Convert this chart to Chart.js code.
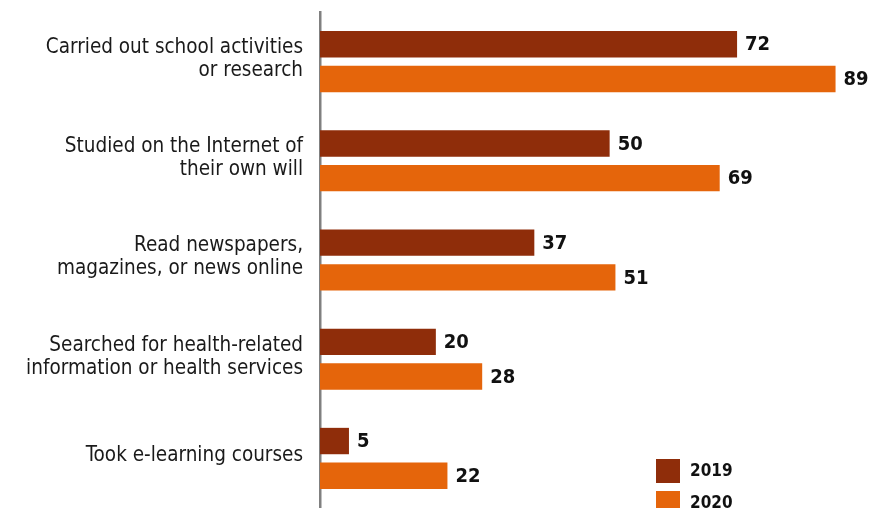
<!DOCTYPE html>
<html>
<head>
<meta charset="utf-8">
<script src="https://cdn.jsdelivr.net/npm/chart.js@4/dist/chart.umd.min.js"></script>
<style>
html,body{margin:0;padding:0;background:#fff;}
#wrap{position:relative;width:879px;height:508px;}
</style>
</head>
<body>
<div id="wrap"><canvas id="c"></canvas></div>
<script>
const categories = [
  ["Carried out school activities", "or research"],
  ["Studied on the Internet of", "their own will"],
  ["Read newspapers,", "magazines, or news online"],
  ["Searched for health-related", "information or health services"],
  ["Took e-learning courses"]
];
const values2019 = [72, 50, 37, 20, 5];
const values2020 = [89, 69, 51, 28, 22];
const seriesNames = ["2019", "2020"];
const seriesColors = ["#8f2d0a", "#e5650b"];

const FONT = '"Liberation Sans Narrow", "DejaVu Sans Condensed", "Roboto", sans-serif';

const valueLabels = {
  id: 'valueLabels',
  afterDatasetsDraw(chart) {
    const ctx = chart.ctx;
    ctx.save();
    ctx.font = 'bold 20px ' + FONT;
    ctx.fillStyle = '#111';
    ctx.textAlign = 'left';
    ctx.textBaseline = 'middle';
    chart.data.datasets.forEach((ds, i) => {
      const meta = chart.getDatasetMeta(i);
      meta.data.forEach((el, j) => {
        ctx.fillText(String(ds.data[j]), el.x + 8, el.y + 1);
      });
    });
    ctx.restore();
  }
};

const customLegend = {
  id: 'customLegend',
  afterDraw(chart) {
    const ctx = chart.ctx;
    ctx.save();
    ctx.font = 'bold 17px ' + FONT;
    ctx.textBaseline = 'middle';
    ctx.textAlign = 'left';
    chart.data.datasets.forEach((ds, i) => {
      const y = 459 + i * 32;
      ctx.fillStyle = ds.backgroundColor;
      ctx.fillRect(656, y, 24, 24);
      ctx.fillStyle = '#111';
      ctx.fillText(ds.label, 690, y + 13);
    });
    ctx.restore();
  }
};

new Chart(document.getElementById('c'), {
  type: 'bar',
  data: {
    labels: categories,
    datasets: [
      { label: seriesNames[0], data: values2019, backgroundColor: seriesColors[0], categoryPercentage: 0.70, barPercentage: 0.76 },
      { label: seriesNames[1], data: values2020, backgroundColor: seriesColors[1], categoryPercentage: 0.70, barPercentage: 0.76 }
    ]
  },
  options: {
    indexAxis: 'y',
    responsive: true,
    maintainAspectRatio: false,
    animation: false,
    layout: { padding: { top: 12, right: 0, bottom: 0, left: 0 } },
    plugins: { legend: { display: false }, tooltip: { enabled: false } },
    scales: {
      x: {
        display: false,
        min: 0,
        max: 96.5
      },
      y: {
        grid: { display: false, drawTicks: false },
        border: { display: true, color: '#808080', width: 2.5 },
        ticks: {
          color: '#1a1a1a',
          padding: 17,
          labelOffset: -2.5,
          font: { family: FONT, size: 20.5, lineHeight: 1.12 }
        },
        afterFit(scale) {
          scale.width = 320;
          scale.paddingTop = 0;
          scale.paddingBottom = 0;
        }
      }
    }
  },
  plugins: [valueLabels, customLegend]
});
</script>
</body>
</html>
